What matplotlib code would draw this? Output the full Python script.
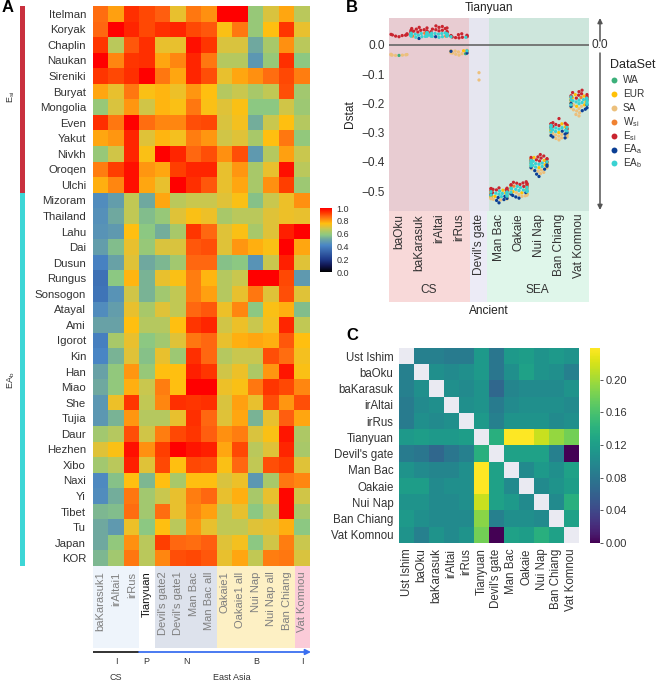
import numpy as np
import matplotlib
matplotlib.use('Agg')
import matplotlib.pyplot as plt
from matplotlib.colors import LinearSegmentedColormap
from matplotlib.patches import Rectangle
import pandas as pd
import seaborn as sns

plt.rcParams['font.family'] = ['Liberation Sans', 'DejaVu Sans']
plt.rcParams['mathtext.default'] = 'regular'

W, H = 657, 684

# panel A
rows_a = ['Itelman', 'Koryak', 'Chaplin', 'Naukan', 'Sireniki', 'Buryat', 'Mongolia', 'Even', 'Yakut',
          'Nivkh', 'Oroqen', 'Ulchi', 'Mizoram', 'Thailand', 'Lahu', 'Dai', 'Dusun', 'Rungus', 'Sonsogon',
          'Atayal', 'Ami', 'Igorot', 'Kin', 'Han', 'Miao', 'She', 'Tujia', 'Daur', 'Hezhen', 'Xibo', 'Naxi',
          'Yi', 'Tibet', 'Tu', 'Japan', 'KOR']
cols_a = ['baKarasuk1', 'irAltai1', 'irRus', 'Tianyuan', "Devil's gate2", "Devil's gate1", 'Man Bac',
          'Man Bac all', 'Oakaie1', 'Oakaie1 all', 'Nui Nap', 'Nui Nap all', 'Ban Chiang', 'Vat Komnou']
vals_a = [
    [.86, .80, .94, .91, .88, .72, .85, .82, 1, 1, .60, .70, .79, .66],
    [.87, 1, .95, .91, .94, .95, .91, .89, .75, .85, .60, .76, .93, .72],
    [.93, .66, .89, .94, .72, .72, .98, .93, .70, .70, .52, .63, .82, .66],
    [1, .83, .93, .94, .79, .83, .95, .85, .65, .65, .47, .60, .94, .58],
    [.93, .91, .94, 1, .85, .79, .95, .90, .72, .79, .82, .86, .91, .84],
    [.79, .72, .85, .75, .77, .73, .81, .76, .65, .68, .63, .67, .90, .62],
    [.60, .70, .81, .69, .77, .75, .85, .75, .71, .75, .58, .58, .69, .61],
    [.94, .85, 1, .86, .83, .83, .90, .91, .70, .74, .53, .68, .76, .65],
    [.79, .81, .95, .71, .77, .74, .84, .81, .69, .71, .63, .76, .85, .59],
    [.60, .69, .95, .75, 1, .95, .87, .90, .82, .90, .48, .65, .80, .68],
    [.84, .92, .98, .81, .79, .92, .95, .95, .72, .81, .63, .72, .98, .66],
    [.78, .83, .98, .79, .72, 1, .94, .89, .72, .79, .63, .82, .92, .61],
    [.44, .49, .67, .52, .79, .66, .68, .68, .71, .75, .57, .68, .73, .82],
    [.45, .52, .67, .56, .60, .71, .75, .73, .63, .66, .66, .71, .73, .72],
    [.46, .48, .76, .58, .53, .63, .93, .87, .71, .75, .63, .71, .96, 1],
    [.49, .56, .72, .60, .70, .70, .89, .90, .71, .81, .78, .75, 1, .79],
    [.41, .50, .71, .52, .55, .62, .87, .87, .57, .58, .46, .68, .96, .71],
    [.36, .58, .77, .54, .72, .75, .84, .77, .65, .68, 1, 1, .91, .48],
    [.37, .46, .69, .54, .62, .67, .84, .80, .65, .72, .85, .71, .90, .71],
    [.44, .49, .72, .63, .71, .67, .87, .89, .73, .83, .58, .75, .78, .56],
    [.50, .50, .76, .65, .65, .76, .93, .95, .69, .73, .68, .74, .95, .67],
    [.40, .63, .72, .58, .62, .71, .85, .87, .72, .78, .79, .78, .89, .76],
    [.42, .54, .71, .57, .72, .61, .94, .87, .65, .68, .68, .90, .86, .74],
    [.50, .59, .81, .60, .76, .76, .96, .93, .69, .73, .64, .81, .97, .75],
    [.52, .59, .78, .68, .84, .76, 1, 1, .73, .75, .85, .93, .91, .83],
    [.47, .73, .93, .67, .83, .94, .93, .94, .70, .80, .72, .90, .81, .90],
    [.47, .54, .81, .65, .65, .72, .94, .87, .71, .79, .54, .72, .88, .79],
    [.62, .65, .90, .69, .84, .91, .93, .88, .82, .84, .70, .75, .97, .64],
    [.71, .75, .98, .82, .92, 1, .97, .96, .79, .91, .66, .71, .95, .63],
    [.62, .66, .96, .71, .91, .76, .91, .90, .75, .87, .67, .90, .92, .71],
    [.43, .57, .76, .55, .76, .63, .76, .76, .70, .73, .47, .63, .85, .83],
    [.44, .53, .85, .62, .68, .72, .84, .87, .72, .78, .63, .72, .99, .69],
    [.55, .56, .86, .62, .86, .72, .83, .80, .67, .72, .58, .67, .99, .63],
    [.52, .48, .73, .58, .76, .66, .81, .72, .67, .67, .71, .72, .78, .58],
    [.52, .59, .82, .66, .92, .87, .86, .88, .71, .74, .58, .69, .84, .68],
    [.55, .62, .85, .66, .83, .90, .91, .89, .72, .79, .67, .84, .85, .70],
]

# panel B, Dstat per ancient sample and dataset
groups_b = ['baOku', 'baKarasuk', 'irAltai', 'irRus', "Devil's gate", 'Man Bac', 'Oakaie', 'Nui Nap',
            'Ban Chiang', 'Vat Komnou']
sets_b = ['WA', 'EUR', 'SA', 'W_si', 'E_si', 'EA_a', 'EA_b']
set_colors = ['#3cb07a', '#ffc107', '#ecc07c', '#f08232', '#c9252f', '#0b3f94', '#3ad2d2']
legend_labels = ['WA', 'EUR', 'SA', 'W$_{si}$', 'E$_{si}$', 'EA$_{a}$', 'EA$_{b}$']

ba_oku = {'WA': [-.036], 'SA': [-.032, -.033, -.034, -.035, -.035, -.036, -.034],
          'E_si': [.028, .03, .032, .033, .034, .035, .036, .038]}
ba_karasuk = {'W_si': [.03, .033, .036, .04, .042],
              'E_si': [.044, .046, .047, .048, .05, .05, .052, .054, .056, .058, .06, .045, .043],
              'EA_a': [.022],
              'EA_b': [.026, .028, .029, .03, .031, .032, .033, .034, .035, .036, .037, .038, .039, .04, .041, .042,
                       .03, .033, .036, .039]}
ir_altai = {'W_si': [.03, .034, .038],
            'E_si': [.042, .044, .045, .046, .048, .05, .052, .054, .056, .058, .06, .063, .065, .042],
            'EA_a': [.028],
            'EA_b': [.026, .028, .029, .03, .031, .032, .033, .034, .035, .036, .037, .038, .039, .04, .041,
                     .03, .033, .036, .039]}
ir_rus = {'WA': [-.03], 'EUR': [-.02, -.022, -.023], 'W_si': [-.02],
          'SA': [-.018, -.02, -.021, -.022, -.023, -.024, -.025, -.026, -.027, -.028, -.03, -.032, -.035, -.022],
          'E_si': [.024, .025, .026, .027, .028, .029, .03, .031, .032, .033, .035, .038],
          'EA_a': [-.022, -.028], 'EA_b': [.026, .028, -.02]}
devils_gate = {'SA': [-.095, -.12]}
man_bac = {'WA': [-.515, -.52],
           'EUR': [-.497, -.5, -.503, -.506, -.508, -.51, -.513, -.516, -.518, -.52, -.523],
           'SA': [-.512, -.516, -.52, -.524, -.526, -.528, -.53, -.527],
           'W_si': [-.5, -.505, -.51],
           'E_si': [-.489, -.49, -.491, -.492, -.493, -.494, -.495, -.496, -.497, -.498, -.5, -.505],
           'EA_a': [-.512, -.518, -.522, -.525, -.529, -.532, -.54],
           'EA_b': [-.5, -.502, -.505, -.507, -.509, -.511, -.513, -.515, -.517, -.519, -.503, -.508]}
oakaie = {'WA': [-.5], 'EUR': [-.478, -.482, -.486, -.49, -.494, -.498, -.502, -.506, -.51],
          'SA': [-.5, -.505, -.51, -.512, -.514, -.516, -.518],
          'W_si': [-.483, -.49],
          'E_si': [-.468, -.47, -.472, -.473, -.474, -.476, -.477, -.478, -.48, -.482, -.484],
          'EA_a': [-.505, -.51, -.515, -.52, -.524],
          'EA_b': [-.484, -.487, -.49, -.492, -.494, -.496, -.498, -.5, -.502, -.504, -.488, -.495]}
nui_nap = {'WA': [-.405], 'EUR': [-.385, -.39, -.395, -.4, -.405, -.41, -.415, -.42],
           'SA': [-.415, -.42, -.424, -.428, -.432, -.436, -.44],
           'W_si': [-.39, -.4],
           'E_si': [-.375, -.38, -.383, -.385, -.387, -.389, -.391, -.393, -.395, -.397, -.4],
           'EA_a': [-.41, -.415, -.42, -.425, -.43, -.442, -.45],
           'EA_b': [-.395, -.398, -.4, -.402, -.404, -.406, -.408, -.41, -.412, -.414, -.416, -.418]}
ban_chiang = {'WA': [-.29], 'EUR': [-.27, -.275, -.28, -.285, -.29, -.295, -.3, -.305],
              'SA': [-.298, -.302, -.306, -.308, -.31, -.312, -.315, -.318, -.32, -.325, -.31, -.305],
              'W_si': [-.275, -.285],
              'E_si': [-.252, -.266, -.268, -.27, -.272, -.274, -.276, -.278, -.28, -.283, -.288, -.27],
              'EA_a': [-.295, -.3, -.305, -.31, -.315, -.318],
              'EA_b': [-.275, -.278, -.28, -.282, -.284, -.286, -.288, -.29, -.292, -.294, -.296, -.298, -.283]}
vat_komnou = {'WA': [-.19], 'EUR': [-.17, -.175, -.18, -.185, -.19, -.195, -.2, -.205, -.21],
              'SA': [-.205, -.21, -.215, -.218, -.222, -.226, -.232, -.238, -.243],
              'W_si': [-.18, -.19],
              'E_si': [-.155, -.16, -.163, -.167, -.17, -.172, -.174, -.176, -.178, -.18, -.182, -.185],
              'EA_a': [-.2, -.205, -.21, -.215, -.22, -.225],
              'EA_b': [-.178, -.182, -.185, -.187, -.189, -.191, -.193, -.195, -.197, -.199, -.201, -.203, -.205,
                       -.188]}

# panel C
names_c = ['Ust Ishim', 'baOku', 'baKarasuk', 'irAltai', 'irRus', 'Tianyuan', "Devil's gate", 'Man Bac',
           'Oakaie', 'Nui Nap', 'Ban Chiang', 'Vat Komnou']
vals_c = [
    [np.nan, .09, .09, .085, .085, .115, .08, .115, .12, .11, .115, .11],
    [.09, np.nan, .105, .1, .105, .115, .08, .105, .125, .11, .105, .09],
    [.09, .105, np.nan, .105, .1, .11, .065, .095, .1, .1, .1, .11],
    [.085, .1, .105, np.nan, .105, .11, .085, .1, .105, .105, .105, .1],
    [.085, .105, .1, .105, np.nan, .115, .09, .11, .11, .11, .1, .105],
    [.115, .12, .115, .115, .12, np.nan, .14, .24, .24, .215, .195, .18],
    [.085, .08, .065, .08, .09, .14, np.nan, .125, .125, .125, .09, 0.0],
    [.11, .1, .095, .095, .105, .24, .125, np.nan, .1, .115, .105, .125],
    [.12, .12, .1, .105, .105, .24, .125, .1, np.nan, .1, .11, .12],
    [.11, .11, .1, .1, .105, .215, .125, .115, .1, np.nan, .1, .14],
    [.115, .105, .1, .1, .1, .19, .09, .105, .105, .1, np.nan, .125],
    [.11, .09, .11, .1, .11, .18, 0.0, .125, .12, .14, .125, np.nan],
]


def px_axes(x0, y0, x1, y1, **kw):
    return fig.add_axes([x0 / W, 1 - y1 / H, (x1 - x0) / W, (y1 - y0) / H], **kw)


fig = plt.figure(figsize=(W / 100, H / 100), dpi=100)

# overlay in pixel coordinates for the boxes, arrows and side labels
bg = px_axes(0, 0, W, H)
bg.set_xlim(0, W)
bg.set_ylim(H, 0)
bg.axis('off')


def box(x0, y0, x1, y1, c):
    bg.add_patch(Rectangle((x0, y0), x1 - x0, y1 - y0, fc=c, ec='none'))


for t, x, y in [('A', 2, 8), ('B', 346, 8), ('C', 346, 336)]:
    bg.text(x, y, t, fontsize=12, fontweight='bold', va='center', color='k')

# ---- A
cm_a = LinearSegmentedColormap.from_list('a', [(0, '#000000'), (.1, '#10154f'), (.2, '#1f3a8a'), (.42, '#4a86c5'),
                                               (.52, '#6fa8a0'), (.58, '#8cc883'), (.63, '#a8c86a'), (.68, '#c8c850'),
                                               (.72, '#e8c030'), (.76, '#ffc010'), (.8, '#ffa010'), (.84, '#ff8010'),
                                               (.88, '#ff6010'), (.92, '#ff4000'), (.96, '#ff2000'), (1, '#ff0000')])
ax_a = px_axes(93, 6, 310, 566)
im = ax_a.imshow(np.array(vals_a), cmap=cm_a, vmin=0, vmax=1, aspect='auto', interpolation='nearest')
ax_a.set_yticks(range(len(rows_a)), rows_a, fontsize=8.2, color='#333333')
ax_a.set_xticks(range(len(cols_a)), cols_a, fontsize=8, rotation=90, color='#7f7f7f')
ax_a.get_xticklabels()[3].set_color('#111111')
ax_a.tick_params(length=0, pad=5)
ax_a.tick_params(axis='x', pad=4)
for s in ax_a.spines.values():
    s.set_visible(False)

box(20, 6, 25, 193, '#c9303e')
box(20, 193, 25, 566, '#3dd6d6')
bg.text(11, 97, 'E$_{si}$', rotation=90, fontsize=6.5, ha='center', va='center', color='#333333')
bg.text(11, 380, 'EA$_{b}$', rotation=90, fontsize=6.5, ha='center', va='center', color='#333333')

box(93, 566, 139, 648, '#eef4fb')
box(155, 566, 217, 648, '#dde2ec')
box(217, 566, 295, 648, '#fdf0c4')
box(295, 566, 310, 648, '#fbcbd8')
bg.plot([93, 139], [652, 652], color='#222222', lw=1.3, solid_capstyle='butt')
bg.annotate('', xy=(311, 652), xytext=(139, 652),
            arrowprops=dict(arrowstyle='-|>', color='#3b6ff0', lw=1.3, shrinkA=0, shrinkB=0, mutation_scale=8))
for t, x in [('I', 116), ('P', 146), ('N', 186), ('B', 256), ('I', 302)]:
    bg.text(x, 661, t, fontsize=6.5, ha='center', va='center', color='#333333')
bg.text(116, 678, 'CS', fontsize=6.5, ha='center', va='center', color='#333333')
bg.text(232, 678, 'East Asia', fontsize=6.5, ha='center', va='center', color='#333333')

cax_a = px_axes(320, 208, 332, 272)
cb_a = fig.colorbar(im, cax=cax_a, ticks=[0, .2, .4, .6, .8, 1])
cb_a.ax.tick_params(labelsize=6.5, length=0, pad=3, labelcolor='#333333')
cb_a.outline.set_visible(False)

# ---- B
group_data = [ba_oku, ba_karasuk, ir_altai, ir_rus, devils_gate, man_bac, oakaie, nui_nap, ban_chiang, vat_komnou]
recs = []
for g, d in zip(groups_b, group_data):
    for s in sets_b:
        for v in d.get(s, []):
            recs.append((g, s, v))
df = pd.DataFrame(recs, columns=['Ancient', 'DataSet', 'Dstat'])

ax_b = px_axes(389, 18, 589, 211)
ax_b.set_facecolor('none')
ax_b.axvspan(-.5, 3.5, color='#e8ccd2', lw=0)
ax_b.axvspan(3.5, 4.5, color='#e6e6f0', lw=0)
ax_b.axvspan(4.5, 9.5, color='#cde6dc', lw=0)
ax_b.grid(axis='y', color='white', lw=.7, alpha=.6)
ax_b.set_axisbelow(True)
sns.swarmplot(data=df, x='Ancient', y='Dstat', hue='DataSet', order=groups_b, hue_order=sets_b,
              palette=set_colors, size=2.35, linewidth=0, legend=False, warn_thresh=1, ax=ax_b)
ax_b.axhline(0, color='#666666', lw=1.2)
ax_b.set_xlim(-.5, 9.5)
ax_b.set_ylim(-.568, .092)
ax_b.set_yticks([0, -.1, -.2, -.3, -.4, -.5], ['0.0', '\u22120.1', '\u22120.2', '\u22120.3', '\u22120.4', '\u22120.5'])
ax_b.set_xticks(range(len(groups_b)), groups_b, rotation=90)
ax_b.tick_params(length=0, labelsize=8.6, labelcolor='#333333', pad=3)
ax_b.tick_params(axis='x', pad=2)
ax_b.set_xlabel('')
ax_b.set_ylabel('Dstat', fontsize=8.6, color='#222222', labelpad=4)
ax_b.set_title('Tianyuan', fontsize=8.6, color='#222222', pad=5)
for s in ax_b.spines.values():
    s.set_visible(False)

box(389, 211, 470, 302, '#f8d9d9')
box(470, 211, 487, 302, '#ecebf6')
box(487, 211, 589, 302, '#dff6ea')
bg.text(429, 290, 'CS', fontsize=8.6, ha='center', va='center', color='#333333')
bg.text(537, 290, 'SEA', fontsize=8.6, ha='center', va='center', color='#333333')
bg.text(489, 311, 'Ancient', fontsize=8.6, ha='center', va='center', color='#222222')
for y0, y1 in [(41, 18), (53, 210)]:
    bg.annotate('', xy=(600, y1), xytext=(600, y0),
                arrowprops=dict(arrowstyle='-|>', color='#555555', lw=1.1, shrinkA=0, shrinkB=0, mutation_scale=7))
bg.text(600, 45, '0.0', fontsize=8.6, ha='center', va='center', color='#333333')

# legend, spaced by hand since the subscripts throw off the legend's row heights
bg.text(633, 65, 'DataSet', fontsize=9, ha='center', va='center', color='#222222')
for i, (c, t) in enumerate(zip(set_colors, legend_labels)):
    yy = 80 + 13.9 * i
    bg.scatter([614], [yy], s=18, color=c, linewidths=0)
    bg.text(623, yy, t, fontsize=7.2, ha='left', va='center', color='#333333')

# ---- C
viridis = plt.get_cmap('viridis')
cm_c = LinearSegmentedColormap.from_list('c', [viridis(t ** .85) for t in np.linspace(0, 1, 64)])
cm_c.set_bad('#eaeaf2')
ax_c = px_axes(399, 348, 579, 543)
im_c = ax_c.imshow(np.ma.masked_invalid(np.array(vals_c)), cmap=cm_c, vmin=0, vmax=.239, aspect='auto',
                   interpolation='nearest')
ax_c.set_xticks(range(len(names_c)), names_c, rotation=90)
ax_c.set_yticks(range(len(names_c)), names_c)
ax_c.tick_params(length=0, labelsize=8.3, labelcolor='#333333', pad=4)
for s in ax_c.spines.values():
    s.set_visible(False)
cax_c = px_axes(590, 348, 600, 543)
cb_c = fig.colorbar(im_c, cax=cax_c, ticks=[0, .04, .08, .12, .16, .2], format='%.2f')
cb_c.ax.tick_params(labelsize=8, length=2.2, width=.7, color='#555555', pad=2, labelcolor='#333333')
cb_c.outline.set_visible(False)

plt.savefig('out.png', dpi=100)
